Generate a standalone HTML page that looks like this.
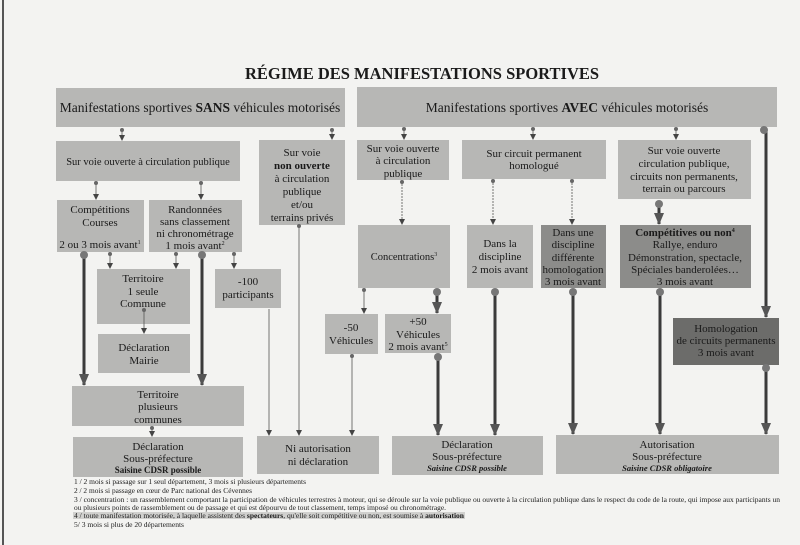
<!DOCTYPE html>
<html><head><meta charset="utf-8"><style>
html,body{margin:0;padding:0;background:#f3f3f1;}
svg{display:block;}
text{font-family:"Liberation Serif",serif;fill:#1a1a1a;}
.b{fill:#b7b7b5;}
.d{fill:#8c8c8a;}
.dd{fill:#6c6c6a;}
.t{font-size:11px;text-anchor:middle;}
.fn{font-size:7.3px;}
</style></head><body>
<svg width="800" height="545" viewBox="0 0 800 545" xmlns="http://www.w3.org/2000/svg">
<rect x="0" y="0" width="800" height="545" fill="#f3f3f1"/>
<rect x="2" y="0" width="2" height="545" fill="#555"/>
<defs>
<marker id="sa" markerWidth="6" markerHeight="6" refX="5" refY="3" orient="auto" markerUnits="userSpaceOnUse"><path d="M0,0 L6,3 L0,6 z" fill="#444"/></marker>
<marker id="ba" markerWidth="12" markerHeight="10" refX="11" refY="5" orient="auto" markerUnits="userSpaceOnUse"><path d="M0,0 L12,5 L0,10 z" fill="#555"/></marker>
</defs>
<text x="422" y="79" style="font-size:16.5px;font-weight:bold;text-anchor:middle">RÉGIME DES MANIFESTATIONS SPORTIVES</text>

<rect class="b" x="56" y="88" width="289" height="39"/>
<text class="t" x="200" y="112" style="font-size:13.5px">Manifestations sportives <tspan font-weight="bold">SANS</tspan> véhicules motorisés</text>
<rect class="b" x="357" y="87" width="420" height="40"/>
<text class="t" x="567" y="112" style="font-size:13.5px">Manifestations sportives <tspan font-weight="bold">AVEC</tspan> véhicules motorisés</text>

<rect class="b" x="56" y="141" width="184" height="40"/>
<text class="t" x="148" y="165" style="font-size:10.5px">Sur voie ouverte à circulation publique</text>
<rect class="b" x="259" y="140" width="86" height="85"/>
<text class="t" x="302" y="156">Sur voie</text>
<text class="t" x="302" y="169" font-weight="bold">non ouverte</text>
<text class="t" x="302" y="182">à circulation</text>
<text class="t" x="302" y="195">publique</text>
<text class="t" x="302" y="208">et/ou</text>
<text class="t" x="302" y="221">terrains privés</text>

<rect class="b" x="57" y="200" width="87" height="52"/>
<text class="t" x="100" y="213">Compétitions</text>
<text class="t" x="100" y="226">Courses</text>
<text class="t" x="100" y="248">2 ou 3 mois avant<tspan dy="-4" font-size="6">1</tspan></text>
<rect class="b" x="149" y="200" width="93" height="52"/>
<text class="t" x="195" y="213">Randonnées</text>
<text class="t" x="195" y="225">sans classement</text>
<text class="t" x="195" y="237">ni chronométrage</text>
<text class="t" x="195" y="249">1 mois avant<tspan dy="-4" font-size="6">2</tspan></text>

<rect class="b" x="97" y="269" width="93" height="55"/>
<text class="t" x="143" y="282">Territoire</text>
<text class="t" x="143" y="295">1 seule</text>
<text class="t" x="143" y="307">Commune</text>
<rect class="b" x="215" y="269" width="66" height="39"/>
<text class="t" x="248" y="285">-100</text>
<text class="t" x="248" y="298">participants</text>
<rect class="b" x="98" y="334" width="92" height="39"/>
<text class="t" x="144" y="351">Déclaration</text>
<text class="t" x="144" y="364">Mairie</text>
<rect class="b" x="72" y="386" width="172" height="40"/>
<text class="t" x="158" y="398">Territoire</text>
<text class="t" x="158" y="410">plusieurs</text>
<text class="t" x="158" y="423">communes</text>

<rect class="b" x="357" y="140" width="92" height="40"/>
<text class="t" x="403" y="152">Sur voie ouverte</text>
<text class="t" x="403" y="164">à circulation</text>
<text class="t" x="403" y="177">publique</text>
<rect class="b" x="462" y="140" width="144" height="39"/>
<text class="t" x="534" y="157">Sur circuit permanent</text>
<text class="t" x="534" y="169">homologué</text>
<rect class="b" x="618" y="140" width="133" height="59"/>
<text class="t" x="684" y="154">Sur voie ouverte</text>
<text class="t" x="684" y="167">circulation publique,</text>
<text class="t" x="684" y="180">circuits non permanents,</text>
<text class="t" x="684" y="192">terrain ou parcours</text>

<rect class="b" x="358" y="225" width="92" height="63"/>
<text class="t" x="404" y="260" style="font-size:10.5px">Concentrations<tspan dy="-4" font-size="6">3</tspan></text>
<rect class="b" x="467" y="225" width="66" height="63"/>
<text class="t" x="500" y="247">Dans la</text>
<text class="t" x="500" y="260">discipline</text>
<text class="t" x="500" y="273">2 mois avant</text>
<rect class="d" x="541" y="225" width="65" height="63"/>
<text class="t" x="573" y="236">Dans une</text>
<text class="t" x="573" y="248">discipline</text>
<text class="t" x="573" y="261">différente</text>
<text class="t" x="573" y="273">homologation</text>
<text class="t" x="573" y="285">3 mois avant</text>
<rect class="d" x="620" y="225" width="131" height="63"/>
<text class="t" x="685" y="236" font-weight="bold">Compétitives ou non<tspan dy="-4" font-size="6">4</tspan></text>
<text class="t" x="685" y="248">Rallye, enduro</text>
<text class="t" x="685" y="261">Démonstration, spectacle,</text>
<text class="t" x="685" y="273">Spéciales banderolées…</text>
<text class="t" x="685" y="285">3 mois avant</text>

<rect class="b" x="325" y="314" width="53" height="40"/>
<text class="t" x="351" y="331">-50</text>
<text class="t" x="351" y="344">Véhicules</text>
<rect class="b" x="385" y="314" width="66" height="39"/>
<text class="t" x="418" y="325">+50</text>
<text class="t" x="418" y="338">Véhicules</text>
<text class="t" x="418" y="350">2 mois avant<tspan dy="-4" font-size="6">5</tspan></text>
<rect class="dd" x="673" y="318" width="106" height="47"/>
<text class="t" x="726" y="332">Homologation</text>
<text class="t" x="726" y="344">de circuits permanents</text>
<text class="t" x="726" y="356">3 mois avant</text>

<rect class="b" x="73" y="437" width="170" height="40"/>
<text class="t" x="158" y="450">Déclaration</text>
<text class="t" x="158" y="462">Sous-préfecture</text>
<text class="t" x="158" y="473" style="font-size:9px;font-weight:bold">Saisine CDSR possible</text>
<rect class="b" x="257" y="436" width="122" height="38"/>
<text class="t" x="318" y="452">Ni autorisation</text>
<text class="t" x="318" y="465">ni déclaration</text>
<rect class="b" x="392" y="436" width="151" height="39"/>
<text class="t" x="467" y="448">Déclaration</text>
<text class="t" x="467" y="460">Sous-préfecture</text>
<text class="t" x="467" y="471" style="font-size:8.5px;font-weight:bold;font-style:italic">Saisine CDSR possible</text>
<rect class="b" x="556" y="435" width="223" height="39"/>
<text class="t" x="667" y="448">Autorisation</text>
<text class="t" x="667" y="460">Sous-préfecture</text>
<text class="t" x="667" y="471" style="font-size:8.5px;font-weight:bold;font-style:italic">Saisine CDSR obligatoire</text>

<g stroke="#555" stroke-width="0.8" fill="#666">
<line x1="122" y1="129" x2="122" y2="140" marker-end="url(#sa)"/><circle cx="122" cy="130" r="2" stroke="none"/>
<line x1="332" y1="129" x2="332" y2="139" marker-end="url(#sa)"/><circle cx="332" cy="130" r="2" stroke="none"/>
<line x1="404" y1="128" x2="404" y2="139" marker-end="url(#sa)"/><circle cx="404" cy="129" r="2" stroke="none"/>
<line x1="533" y1="128" x2="533" y2="139" marker-end="url(#sa)"/><circle cx="533" cy="129" r="2" stroke="none"/>
<line x1="676" y1="128" x2="676" y2="139" marker-end="url(#sa)"/><circle cx="676" cy="129" r="2" stroke="none"/>
<line x1="96" y1="183" x2="96" y2="199" marker-end="url(#sa)"/><circle cx="96" cy="183" r="2" stroke="none"/>
<line x1="201" y1="183" x2="201" y2="199" marker-end="url(#sa)"/><circle cx="201" cy="183" r="2" stroke="none"/>
<line x1="110" y1="253" x2="110" y2="268" marker-end="url(#sa)"/><circle cx="110" cy="254" r="2" stroke="none"/>
<line x1="176" y1="253" x2="176" y2="268" marker-end="url(#sa)"/><circle cx="176" cy="254" r="2" stroke="none"/>
<line x1="234" y1="253" x2="234" y2="268" marker-end="url(#sa)"/><circle cx="234" cy="254" r="2" stroke="none"/>
<line x1="144" y1="310" x2="144" y2="333" marker-end="url(#sa)"/><circle cx="144" cy="310" r="2" stroke="none"/>
<line x1="152" y1="428" x2="152" y2="436" marker-end="url(#sa)"/><circle cx="152" cy="428" r="2" stroke="none"/>
<line x1="299" y1="226" x2="299" y2="435" marker-end="url(#sa)"/><circle cx="299" cy="226" r="2" stroke="none"/>
<line x1="269" y1="309" x2="269" y2="435" marker-end="url(#sa)"/>
<line x1="352" y1="355" x2="352" y2="435" marker-end="url(#sa)"/><circle cx="352" cy="356" r="2" stroke="none"/>
<line x1="364" y1="289" x2="364" y2="313" marker-end="url(#sa)"/><circle cx="364" cy="290" r="2" stroke="none"/>
<line x1="402" y1="181" x2="402" y2="224" stroke-dasharray="2,1" marker-end="url(#sa)"/><circle cx="402" cy="182" r="2" stroke="none"/>
<line x1="493" y1="180" x2="493" y2="224" stroke-dasharray="2,1" marker-end="url(#sa)"/><circle cx="493" cy="181" r="2" stroke="none"/>
<line x1="572" y1="180" x2="572" y2="224" stroke-dasharray="2,1" marker-end="url(#sa)"/><circle cx="572" cy="181" r="2" stroke="none"/>
</g>
<g stroke="#3a3a3a" stroke-width="3" fill="#777">
<line x1="84" y1="254" x2="84" y2="385" marker-end="url(#ba)"/><circle cx="84" cy="255" r="4" stroke="none"/>
<line x1="202" y1="254" x2="202" y2="385" marker-end="url(#ba)"/><circle cx="202" cy="255" r="4" stroke="none"/>
<line x1="437" y1="290" x2="437" y2="313" marker-end="url(#ba)"/><circle cx="437" cy="292" r="4" stroke="none"/>
<line x1="438" y1="356" x2="438" y2="435" marker-end="url(#ba)"/><circle cx="438" cy="357" r="4" stroke="none"/>
<line x1="495" y1="290" x2="495" y2="435" marker-end="url(#ba)"/><circle cx="495" cy="292" r="4" stroke="none"/>
<line x1="573" y1="290" x2="573" y2="434" marker-end="url(#ba)"/><circle cx="573" cy="292" r="4" stroke="none"/>
<line x1="660" y1="290" x2="660" y2="434" marker-end="url(#ba)"/><circle cx="660" cy="292" r="4" stroke="none"/>
<line x1="659" y1="201" x2="659" y2="224" marker-end="url(#ba)"/><circle cx="659" cy="204" r="4" stroke="none"/>
<line x1="766" y1="130" x2="766" y2="317" marker-end="url(#ba)"/><circle cx="764" cy="130" r="4" stroke="none"/>
<line x1="766" y1="367" x2="766" y2="434" marker-end="url(#ba)"/><circle cx="766" cy="368" r="4" stroke="none"/>
</g>

<text class="fn" x="74" y="484" textLength="232" lengthAdjust="spacingAndGlyphs">1 / 2 mois si passage sur 1 seul département, 3 mois si plusieurs départements</text>
<text class="fn" x="74" y="493" textLength="178" lengthAdjust="spacingAndGlyphs">2 / 2 mois si passage en cœur de Parc national des Cévennes</text>
<text class="fn" x="74" y="502" textLength="706" lengthAdjust="spacingAndGlyphs">3 / concentration : un rassemblement comportant la participation de véhicules terrestres à moteur, qui se déroule sur la voie publique ou ouverte à la circulation publique dans le respect du code de la route, qui impose aux participants un</text>
<text class="fn" x="74" y="510" textLength="372" lengthAdjust="spacingAndGlyphs">ou plusieurs points de rassemblement ou de passage et qui est dépourvu de tout classement, temps imposé ou chronométrage.</text>
<rect x="73" y="512" width="392" height="7" fill="#d0d0ce"/>
<text class="fn" x="74" y="518" textLength="390" lengthAdjust="spacingAndGlyphs">4 /  toute manifestation motorisée, à laquelle assistent des <tspan font-weight="bold">spectateurs</tspan>, qu'elle soit compétitive ou non, est soumise à <tspan font-weight="bold">autorisation</tspan></text>
<text class="fn" x="74" y="527" textLength="110" lengthAdjust="spacingAndGlyphs">5/ 3 mois si plus de 20 départements</text>
</svg>
</body></html>
